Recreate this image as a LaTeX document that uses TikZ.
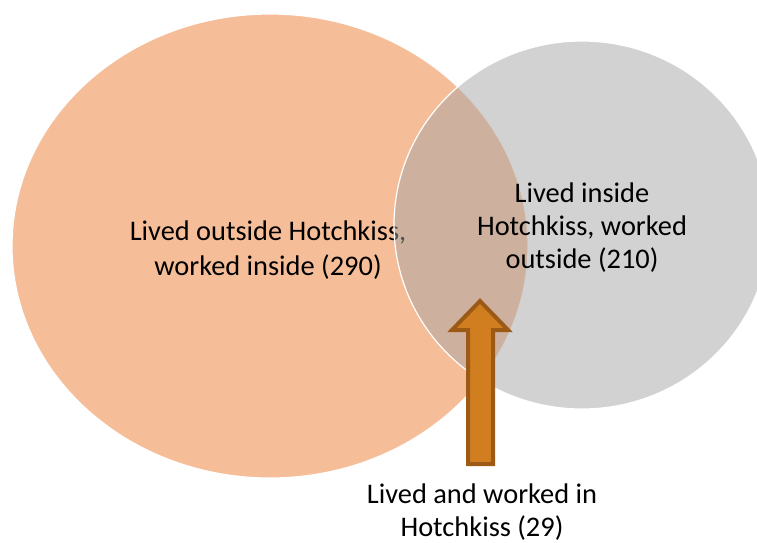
\documentclass[tikz,border=0pt]{standalone}
\usepackage{fontspec}
\setmainfont{Carlito}
\definecolor{vorange}{RGB}{237,125,49}
\definecolor{vgray}{RGB}{165,165,165}
\definecolor{arrowfill}{RGB}{209,126,33}
\definecolor{arrowline}{RGB}{157,89,22}
\tikzset{
  vennset/.style={draw=white, line width=1.2pt, fill opacity=0.5},
  venntext/.style={align=center, inner sep=0pt, font=\fontsize{28.4}{35}\selectfont, text=black},
  venntextb/.style={venntext, font=\fontsize{28.4}{32.8}\selectfont},
  blockarrow/.style={fill=arrowfill, draw=arrowline, line width=4pt, line join=miter}
}
\begin{document}
\begin{tikzpicture}[x=1pt,y=-1pt]
\useasboundingbox (0,0) rectangle (757,542);
% orange set
\path[vennset, fill=vorange] (270,246) ellipse [x radius=258, y radius=232];
\node[venntext] (outside) at (268,250) {Lived outside Hotchkiss,\\worked inside (290)};
% gray set
\path[vennset, fill=vgray] (582,225) ellipse [x radius=188, y radius=184];
\node[venntextb] (inside) at (582,227.5) {Lived inside\\Hotchkiss, worked\\outside (210)};
% bottom label
\node[venntextb] (both) at (482,512) {Lived and worked in\\Hotchkiss (29)};
% block arrow
\coordinate (tip) at (480,301);
\draw[blockarrow] (468,464) -- (468,330) -- (452,330) -- (tip) -- (508,330) -- (493,330) -- (493,464) -- cycle;
\end{tikzpicture}
\end{document}
